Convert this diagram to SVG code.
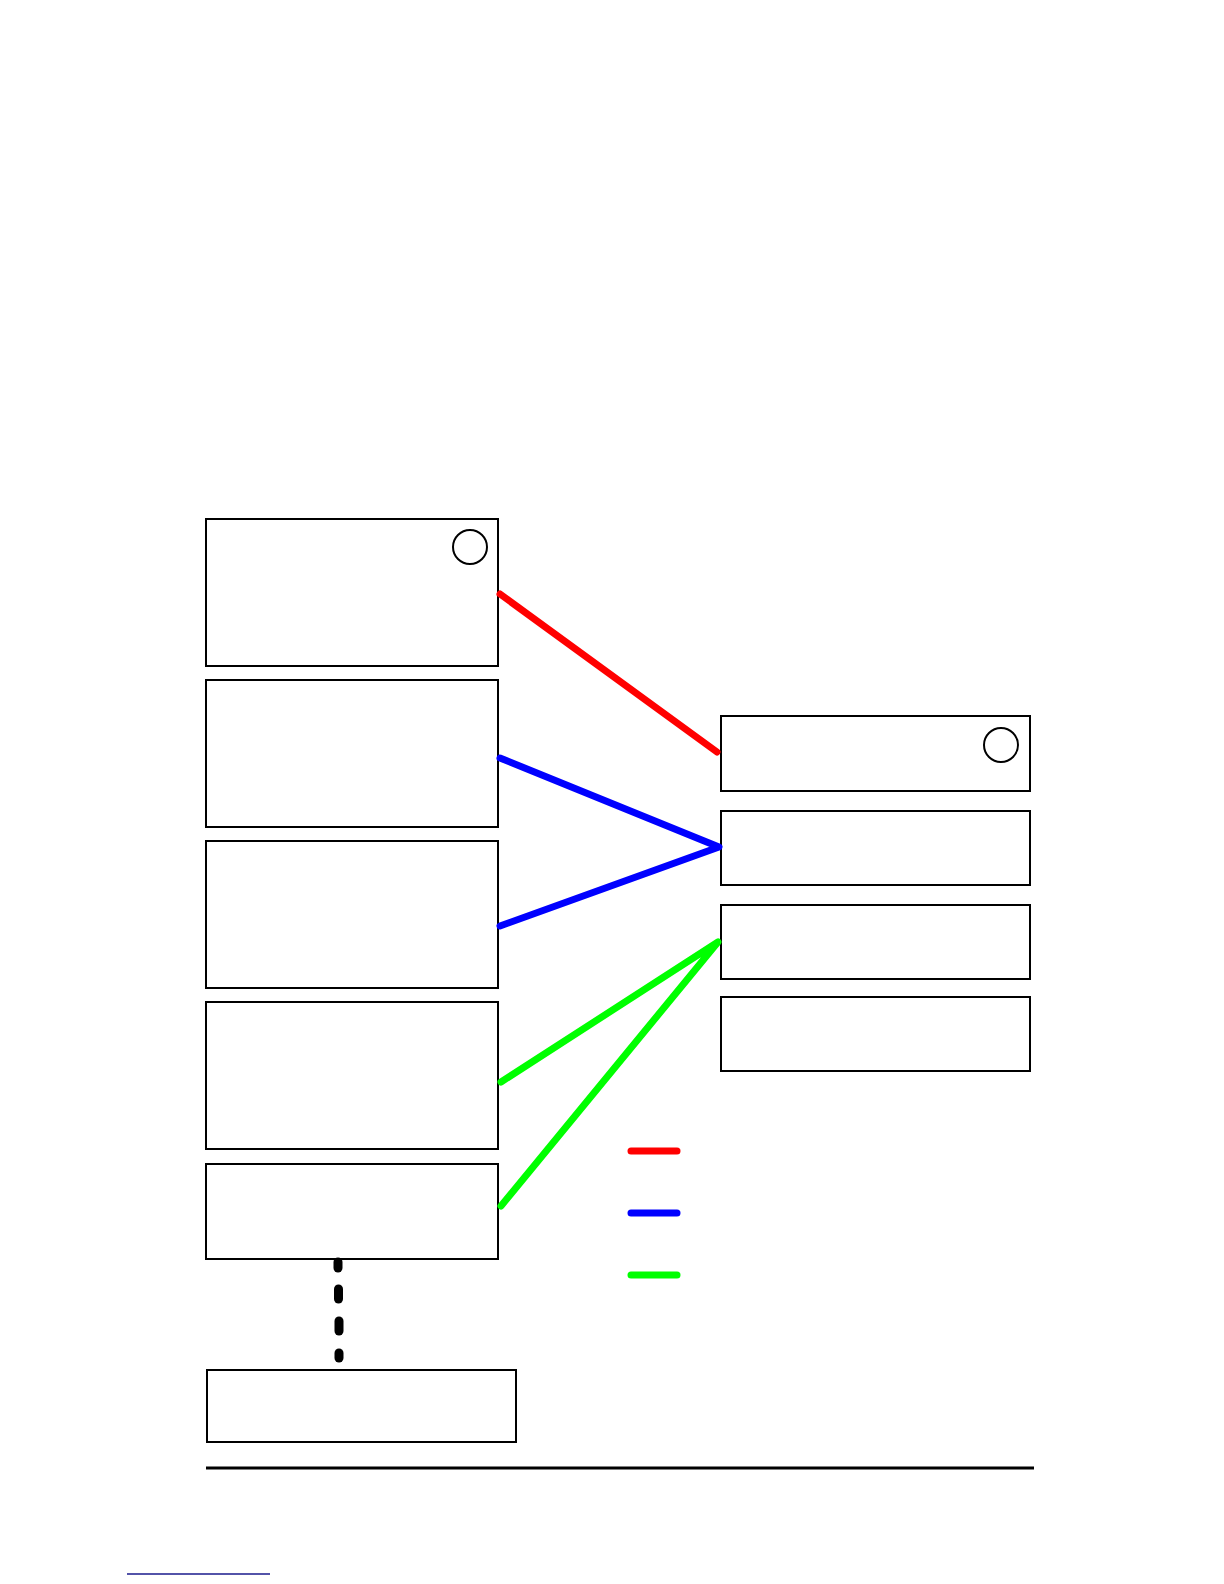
<svg xmlns="http://www.w3.org/2000/svg" width="1224" height="1584" viewBox="0 0 1224 1584">
<style>
.box{fill:#fff;stroke:#000;stroke-width:2}
.ring{fill:none;stroke:#000;stroke-width:2}
.c{fill:none;stroke-width:7;stroke-linecap:round;stroke-linejoin:round}
.red{stroke:#ff0000}.blue{stroke:#0000ff}.green{stroke:#00ff00}
.dash{stroke:#000;stroke-width:9;stroke-linecap:round}
</style>
<rect width="1224" height="1584" fill="#fff"/>
<g id="L1"><rect class="box" x="206" y="519" width="292" height="147"/><circle class="ring" cx="470" cy="547" r="17"/></g>
<g id="L2"><rect class="box" x="206" y="680" width="292" height="147"/></g>
<g id="L3"><rect class="box" x="206" y="841" width="292" height="147"/></g>
<g id="L4"><rect class="box" x="206" y="1002" width="292" height="147"/></g>
<g id="L5"><rect class="box" x="206" y="1164" width="292" height="95"/></g>
<g id="B1"><rect class="box" x="207" y="1370" width="309" height="72"/></g>
<g id="R1"><rect class="box" x="721" y="716" width="309" height="75"/><circle class="ring" cx="1001" cy="745" r="17"/></g>
<g id="R2"><rect class="box" x="721" y="811" width="309" height="74"/></g>
<g id="R3"><rect class="box" x="721" y="905" width="309" height="74"/></g>
<g id="R4"><rect class="box" x="721" y="997" width="309" height="74"/></g>
<g id="connectors">
<line class="c red" x1="500" y1="594" x2="717" y2="752"/>
<polyline class="c blue" points="500,758 719,847 500,926"/>
<polyline class="c green" points="501,1082 718,942 501,1206"/>
<line class="dash" x1="338" y1="1262" x2="338" y2="1268"/>
<line class="dash" x1="338.5" y1="1289" x2="338.5" y2="1299"/>
<line class="dash" x1="339" y1="1321" x2="339" y2="1331"/>
<line class="dash" x1="339" y1="1353" x2="339" y2="1358"/>
</g>
<g id="legend">
<line class="c red" x1="631" y1="1151" x2="677" y2="1151"/>
<line class="c blue" x1="631" y1="1213" x2="677" y2="1213"/>
<line class="c green" x1="631" y1="1275" x2="677" y2="1275"/>
</g>
<line x1="206" y1="1468" x2="1034" y2="1468" stroke="#000" stroke-width="3"/>
<line x1="127" y1="1574" x2="270" y2="1574" stroke="#1a1a8c" stroke-width="1.5"/>
</svg>
